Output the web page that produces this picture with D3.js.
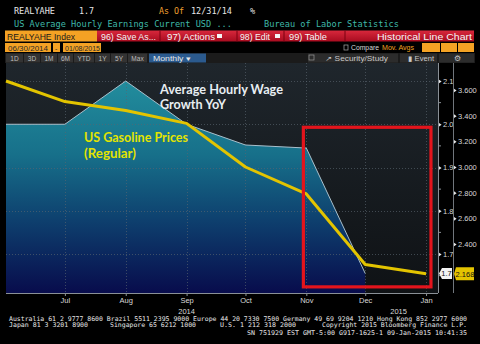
<!DOCTYPE html>
<html><head><meta charset="utf-8">
<script src="https://cdn.jsdelivr.net/npm/d3@7"></script>
<style>
html,body{margin:0;padding:0;background:#000;}
svg{display:block;}
</style></head>
<body>
<script>
// ---------- data ----------
const wageDates = ["2014-06-01","2014-07-01","2014-08-01","2014-09-01","2014-10-01","2014-11-01","2014-12-01"];
const wageValues = [2.0, 2.0, 2.1, 2.0, 1.952, 1.945, 1.655];
const gasDates = ["2014-06-01","2014-07-01","2014-08-01","2014-09-01","2014-10-01","2014-11-01","2014-12-01","2015-01-01"];
const gasValues = [3.67, 3.51, 3.44, 3.34, 3.00, 2.79, 2.24, 2.168];
const monthTicks = ["2014-07-01","2014-08-01","2014-09-01","2014-10-01","2014-11-01","2014-12-01","2015-01-01"];
const leftTicks = [1.7, 1.8, 1.9, 2.0, 2.1];
const leftMinor = [1.65, 1.75, 1.85, 1.95, 2.05];
const rightTicks = [2.4, 2.6, 2.8, 3.0, 3.2, 3.4, 3.6];
const yearLabels = [["2014","2014-09-01"],["2015","2014-12-18"]];
const lastWageLabel = "1.7";
const lastGasLabel = "2.168";

const W = 480, H = 344;
const parse = d3.timeParse("%Y-%m-%d");
const svg = d3.select("body").append("svg").attr("width", W).attr("height", H);
const defs = svg.append("defs");

svg.append("rect").attr("width", W).attr("height", H).attr("fill", "#000");

// ---------- scales ----------
const plot = {l: 6, r: 438, t: 63, b: 293};
const x = d3.scaleTime().domain([parse("2014-06-01"), new Date(2015,0,7,2)]).range([plot.l, plot.r]);
const yL = d3.scaleLinear().domain([1.7, 2.1]).range([254, 81]);
const yR = d3.scaleLinear().domain([2.4, 3.6]).range([244, 90]);

// ---------- gradients ----------
const bg = defs.append("linearGradient").attr("id","bg").attr("x1",0).attr("y1",0).attr("x2",0).attr("y2",1);
bg.append("stop").attr("offset","0%").attr("stop-color","#1f262c");
bg.append("stop").attr("offset","100%").attr("stop-color","#0f1215");
const ag = defs.append("linearGradient").attr("id","ag").attr("gradientUnits","userSpaceOnUse")
  .attr("x1",0).attr("y1",80).attr("x2",0).attr("y2",293);
ag.append("stop").attr("offset","0%").attr("stop-color","#228d9d");
ag.append("stop").attr("offset","35%").attr("stop-color","#17708a");
ag.append("stop").attr("offset","65%").attr("stop-color","#0e416f");
ag.append("stop").attr("offset","100%").attr("stop-color","#080c4c");
const redg = defs.append("linearGradient").attr("id","redg").attr("x1",0).attr("y1",0).attr("x2",0).attr("y2",1);
redg.append("stop").attr("offset","0%").attr("stop-color","#d8283c");
redg.append("stop").attr("offset","100%").attr("stop-color","#a80c20");

// ---------- header ----------
const mono = "'DejaVu Sans Mono', monospace";
const sans = "'Liberation Sans', Arial, sans-serif";
function txt(g, s, xx, yy, size, fill, fam, opts={}) {
  const t = g.append("text").attr("x", xx).attr("y", yy).attr("font-size", size)
    .attr("font-family", fam).attr("fill", fill).text(s);
  if (opts.anchor) t.attr("text-anchor", opts.anchor);
  if (opts.len) t.attr("textLength", opts.len).attr("lengthAdjust","spacingAndGlyphs");
  if (opts.weight) t.attr("font-weight", opts.weight);
  return t;
}
const hdr = svg.append("g");
txt(hdr, "REALYAHE", 14, 14, 8.6, "#e6e6e6", mono, {len: 41});
txt(hdr, "1.7", 79, 14, 8.6, "#e6e6e6", mono, {len: 15});
txt(hdr, "As Of", 159, 14, 8.6, "#f0a030", mono, {len: 25});
txt(hdr, "12/31/14", 191, 14, 8.6, "#e6e6e6", mono, {len: 41});
txt(hdr, "%", 250, 14, 8.6, "#e6e6e6", mono);
txt(hdr, "US Average Hourly Earnings Current USD ...", 14, 27, 8.6, "#3fb8a8", mono, {len: 218});
txt(hdr, "Bureau of Labor Statistics", 264, 27, 8.6, "#3fb8a8", mono, {len: 135});

// row 3
hdr.append("rect").attr("x",5).attr("y",30.5).attr("width",92).attr("height",11).attr("fill","#f4a224");
txt(hdr, "REALYAHE Index", 7, 39.5, 9, "#1a1a1a", sans, {len: 68});
hdr.append("rect").attr("x",97).attr("y",30.5).attr("width",377).attr("height",11).attr("fill","url(#redg)");
[160, 237, 284, 345].forEach(v => hdr.append("line").attr("x1",v).attr("x2",v).attr("y1",30.5).attr("y2",41.5).attr("stroke","#7a0010").attr("stroke-width",1));
txt(hdr, "96) Save As...", 101, 39.5, 9, "#f4f4f4", sans, {len: 55});
txt(hdr, "97) Actions", 167, 39.5, 9, "#f4f4f4", sans, {len: 48});
hdr.append("rect").attr("x",217).attr("y",34).attr("width",5).attr("height",4).attr("fill","#f4f4f4");
txt(hdr, "98) Edit", 240, 39.5, 9, "#f4f4f4", sans, {len: 30});
hdr.append("rect").attr("x",275).attr("y",34).attr("width",5).attr("height",4).attr("fill","#f4f4f4");
txt(hdr, "99) Table", 289, 39.5, 9, "#f4f4f4", sans, {len: 38});
txt(hdr, "Historical Line Chart", 472, 39.5, 9, "#f4f4f4", sans, {anchor: "end", len: 95});

// row 4
hdr.append("rect").attr("x",5).attr("y",43).attr("width",46).attr("height",9).attr("fill","#f4a224");
txt(hdr, "06/30/2014", 8, 50.5, 7, "#2a2a2a", sans, {len: 40});
hdr.append("rect").attr("x",53).attr("y",43).attr("width",7).attr("height",9).attr("fill","#f4a224");
txt(hdr, "-", 55, 50.5, 7, "#2a2a2a", sans);
hdr.append("rect").attr("x",63).attr("y",43).attr("width",38).attr("height",9).attr("fill","#f4a224");
txt(hdr, "01/08/2015", 65, 50.5, 7, "#2a2a2a", sans, {len: 35});
hdr.append("rect").attr("x",344).attr("y",45).attr("width",4).attr("height",5).attr("fill","none").attr("stroke","#aaa").attr("stroke-width",0.7);
txt(hdr, "Compare", 351, 50, 6.5, "#d8d8d8", sans, {len: 28});
txt(hdr, "Mov. Avgs", 382, 50, 6.5, "#f0a020", sans, {len: 32});
[[422,440],[441,457],[458,474]].forEach(([a,b]) => hdr.append("rect").attr("x",a).attr("y",43).attr("width",b-a).attr("height",9).attr("fill","#f4a224"));

// row 5
hdr.append("rect").attr("x",5).attr("y",53).attr("width",470).attr("height",10).attr("fill","#1b1b1b");
const btns = [["1D",6,23],["3D",24,40],["1M",41,57],["6M",58,73],["YTD",74,94],["1Y",95,110],["5Y",111,127],["Max",128,147]];
btns.forEach(([s,a,b]) => {
  hdr.append("rect").attr("x",a).attr("y",53.5).attr("width",b-a).attr("height",9).attr("fill","#333");
  txt(hdr, s, (a+b)/2, 60.8, 6.5, "#bdbdbd", sans, {anchor: "middle"});
});
hdr.append("rect").attr("x",149).attr("y",53.5).attr("width",57).attr("height",9).attr("fill","#2b5a8e");
txt(hdr, "Monthly \u25BE", 153, 60.8, 6.8, "#e8e8e8", sans, {len: 38});
hdr.append("rect").attr("x",308).attr("y",53.5).attr("width",90).attr("height",9).attr("fill","#2c2c2c");
hdr.append("rect").attr("x",309).attr("y",55).attr("width",5).attr("height",5).attr("fill","none").attr("stroke","#999").attr("stroke-width",0.7);
txt(hdr, "\u2197 Security/Study", 325, 60.8, 6.8, "#c8c8c8", sans, {len: 63});
hdr.append("rect").attr("x",400).attr("y",53.5).attr("width",37).attr("height",9).attr("fill","#2c2c2c");
txt(hdr, "\u25AE Event", 408, 60.8, 6.8, "#c8c8c8", sans, {len: 26});
hdr.append("rect").attr("x",439).attr("y",53.5).attr("width",35).attr("height",9).attr("fill","#2c2c2c");
txt(hdr, "\u2699", 457, 61, 8, "#c8c8c8", sans, {anchor: "middle"});

// ---------- plot ----------
const pg = svg.append("g");
pg.append("rect").attr("x",plot.l).attr("y",plot.t).attr("width",plot.r-plot.l).attr("height",plot.b-plot.t).attr("fill","url(#bg)");

// area
const wage = wageDates.map((d,i) => ({d: parse(d), v: wageValues[i]}));
const area = d3.area().x(d => x(d.d)).y0(plot.b).y1(d => yL(d.v));
const line = d3.line().x(d => x(d.d)).y(d => yL(d.v));
pg.append("path").datum(wage).attr("d", area).attr("fill","url(#ag)");

// grid
const gridG = pg.append("g");
leftTicks.forEach(v => gridG.append("line").attr("x1",plot.l).attr("x2",plot.r).attr("y1",Math.round(yL(v))+0.5).attr("y2",Math.round(yL(v))+0.5)
  .attr("stroke","#5b6670").attr("stroke-width",0.8).attr("stroke-dasharray","1,2").attr("opacity",0.8));
monthTicks.forEach(m => gridG.append("line").attr("x1",Math.round(x(parse(m)))+0.5).attr("x2",Math.round(x(parse(m)))+0.5).attr("y1",plot.t).attr("y2",plot.b)
  .attr("stroke","#5b6670").attr("stroke-width",0.8).attr("stroke-dasharray","1,2").attr("opacity",0.8));

pg.append("path").datum(wage).attr("d", line).attr("fill","none").attr("stroke","#a9bfcb").attr("stroke-width",1);

// gasoline line
const gas = gasDates.map((d,i) => ({d: parse(d), v: gasValues[i]}));
const gline = d3.line().x(d => x(d.d)).y(d => yR(d.v));
pg.append("path").datum(gas).attr("d", gline).attr("fill","none").attr("stroke","#e3c400").attr("stroke-width",3).attr("stroke-linejoin","round");

// annotations
const ann = svg.append("g").attr("font-family","Lato, 'Open Sans', sans-serif").attr("font-weight","bold").attr("font-size",13.5);
ann.append("text").attr("x",160).attr("y",94).attr("fill","#e8eef2").text("Average Hourly Wage").attr("textLength",123).attr("lengthAdjust","spacingAndGlyphs");
ann.append("text").attr("x",160).attr("y",109).attr("fill","#e8eef2").text("Growth YoY").attr("textLength",66).attr("lengthAdjust","spacingAndGlyphs");
ann.append("text").attr("x",84).attr("y",142).attr("fill","#e4e400").text("US Gasoline Prices").attr("textLength",104).attr("lengthAdjust","spacingAndGlyphs");
ann.append("text").attr("x",84).attr("y",158).attr("fill","#e4e400").text("(Regular)").attr("textLength",52).attr("lengthAdjust","spacingAndGlyphs");

// red box
const rx0 = x(new Date(2014,9,30,12)), rx1 = x(new Date(2015,0,3,12));
const ry0 = yL(1.993), ry1 = yL(1.624);
svg.append("rect").attr("x",rx0).attr("y",ry0).attr("width",rx1-rx0).attr("height",ry1-ry0)
  .attr("fill","none").attr("stroke","#e3141c").attr("stroke-width",3.2);

// ---------- axes ----------
const axL = svg.append("g").attr("transform",`translate(${plot.r},0)`)
  .call(d3.axisRight(yL).tickValues(leftTicks).tickSize(0).tickPadding(0).tickFormat(d3.format(".1f")));
axL.select(".domain").attr("stroke","#8a9096").attr("d",`M0.5,${plot.t}V${plot.b}`);
axL.selectAll(".tick text").attr("x",5).attr("fill","#d8d8d8").attr("font-size",7.5).attr("font-family",sans);
axL.selectAll(".tick").append("path").attr("d","M1,-1.8L3.6,0L1,1.8Z").attr("fill","#e8e8e8");
leftMinor.forEach(v => axL.append("line").attr("x1",0).attr("x2",3).attr("y1",yL(v)).attr("y2",yL(v)).attr("stroke","#8a9096"));

const axR = svg.append("g").attr("transform","translate(453,0)")
  .call(d3.axisRight(yR).tickValues(rightTicks).tickSize(0).tickPadding(0).tickFormat(d3.format(".3f")));
axR.select(".domain").attr("stroke","#70767c").attr("d",`M0.5,${plot.t}V${plot.b}`);
axR.selectAll(".tick text").attr("x",5).attr("fill","#d8d8d8").attr("font-size",7.5).attr("font-family",sans);
axR.selectAll(".tick").append("path").attr("d","M1,-1.8L3.6,0L1,1.8Z").attr("fill","#e8e8e8");

const axB = svg.append("g").attr("transform",`translate(0,${plot.b})`)
  .call(d3.axisBottom(x).tickValues(monthTicks.map(parse)).tickSize(3).tickPadding(2).tickFormat(d3.timeFormat("%b")));
axB.select(".domain").attr("stroke","#8a9096").attr("d",`M${plot.l},0.5H${plot.r}`);
axB.selectAll(".tick line").attr("stroke","#8a9096");
axB.selectAll(".tick text").attr("fill","#d8d8d8").attr("font-size",7.5).attr("font-family",sans);
yearLabels.forEach(([s,d]) => txt(svg, s, x(parse(d)), 313.5, 7.5, "#d8d8d8", sans, {anchor: "middle"}));

// last value labels
const lastW = wage[wage.length-1], lastG = gas[gas.length-1];
const lwY = yL(lastW.v);
svg.append("path").attr("d",`M439,${lwY}L442,${lwY-5.5}H452V${lwY+5.5}H442Z`).attr("fill","#f2f2f2");
txt(svg, lastWageLabel, 446.5, lwY+3, 7.5, "#111", sans, {anchor: "middle"});
const lgY = yR(lastG.v);
svg.append("path").attr("d",`M454,${lgY}L456,${lgY-6.5}H474V${lgY+6.5}H456Z`).attr("fill","#e4c400");
txt(svg, lastGasLabel, 465, lgY+3, 7.5, "#111", sans, {anchor: "middle"});

// ---------- footer ----------
const ft = svg.append("g");
txt(ft, "Australia 61 2 9777 8600 Brazil 5511 2395 9000 Europe 44 20 7330 7500 Germany 49 69 9204 1210 Hong Kong 852 2977 6000", 9, 320.5, 6.4, "#e8e8e8", mono, {len: 458});
txt(ft, "Japan 81 3 3201 8900", 9, 327, 6.4, "#e8e8e8", mono, {len: 79});
txt(ft, "Singapore 65 6212 1000", 110, 327, 6.4, "#e8e8e8", mono, {len: 86});
txt(ft, "U.S. 1 212 318 2000", 220, 327, 6.4, "#e8e8e8", mono, {len: 76});
txt(ft, "Copyright 2015 Bloomberg Finance L.P.", 322, 327, 6.4, "#e8e8e8", mono, {len: 145});
txt(ft, "SN 751929 EST  GMT-5:00 G917-1625-1 09-Jan-2015 10:41:35", 247, 334.5, 6.4, "#e8e8e8", mono, {len: 220});
</script>
</body></html>
